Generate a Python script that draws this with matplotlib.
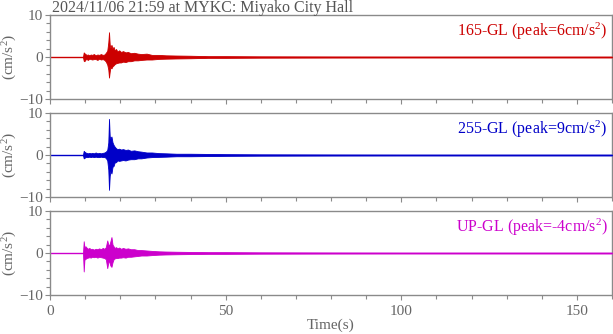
import matplotlib
matplotlib.use("Agg")
import matplotlib.pyplot as plt
from matplotlib.ticker import MultipleLocator

plt.rcParams['font.family'] = ['Liberation Serif', 'DejaVu Serif']
plt.rcParams['mathtext.fontset'] = 'custom'
plt.rcParams['mathtext.rm'] = 'Liberation Serif'
plt.rcParams['mathtext.it'] = 'Liberation Serif:italic'

title = "2024/11/06 21:59 at MYKC: Miyako City Hall"
channels = ["165-GL", "255-GL", "UP-GL"]
peaks = ["6", "9", "-4"]
colors = ["#cc0000", "#0000c8", "#cc00cc"]

t_env = [9.4, 9.6, 9.8, 10.1, 10.4, 10.8, 11.2, 11.6, 12.0, 12.5, 13.0, 13.5, 14.0, 14.5, 15.0,
         15.5, 15.9, 16.3, 16.6, 16.8, 17.0, 17.2, 17.5, 17.8, 18.1, 18.4, 18.8, 19.2, 19.7, 20.2,
         20.8, 21.5, 22.2, 23.0, 24.0, 25.0, 26.0, 27.5, 29.0, 31.0, 33.0, 36.0, 40.0, 45.0, 50.0,
         60.0, 80.0, 100.0, 130.0, 160.0]

up_165 = [0.1, 1.1, 0.9, 0.7, 0.5, 0.6, 0.4, 0.6, 0.5, 0.7, 0.4, 0.6, 0.5, 0.7, 0.5,
          0.6, 1.0, 1.5, 3.5, 5.9, 3.0, 2.2, 2.9, 2.0, 2.4, 1.6, 1.9, 1.3, 1.6, 1.2,
          1.4, 1.1, 1.2, 0.9, 1.0, 0.8, 0.7, 0.8, 0.5, 0.5, 0.4, 0.35, 0.3, 0.2, 0.2,
          0.15, 0.12, 0.1, 0.1, 0.1]
lo_165 = [-0.1, -0.9, -1.0, -0.6, -0.5, -0.7, -0.4, -0.5, -0.6, -0.5, -0.5, -0.7, -0.4, -0.6, -0.5,
          -0.7, -1.1, -1.8, -3.0, -4.9, -3.5, -2.4, -2.7, -2.2, -2.0, -1.7, -1.5, -1.4, -1.3, -1.3,
          -1.1, -1.2, -1.0, -1.0, -0.8, -0.8, -0.7, -0.6, -0.6, -0.45, -0.4, -0.35, -0.3, -0.2, -0.2,
          -0.15, -0.12, -0.1, -0.1, -0.1]

up_255 = [0.1, 1.0, 0.8, 0.6, 0.5, 0.4, 0.5, 0.4, 0.5, 0.4, 0.6, 0.4, 0.5, 0.4, 0.5,
          0.6, 0.8, 1.2, 3.0, 8.6, 4.5, 4.0, 4.4, 3.0, 2.4, 2.0, 1.6, 1.4, 1.5, 1.3,
          1.4, 1.2, 1.3, 1.0, 1.1, 0.9, 0.8, 0.6, 0.6, 0.45, 0.4, 0.3, 0.3, 0.25, 0.2,
          0.15, 0.12, 0.1, 0.1, 0.1]
lo_255 = [-0.1, -0.8, -0.7, -0.5, -0.5, -0.5, -0.4, -0.5, -0.4, -0.5, -0.4, -0.5, -0.5, -0.4, -0.5,
          -0.5, -0.7, -1.3, -3.5, -8.3, -5.0, -3.8, -4.4, -2.8, -2.6, -1.8, -1.7, -1.3, -1.4, -1.3,
          -1.2, -1.3, -1.1, -1.0, -1.0, -0.8, -0.8, -0.6, -0.5, -0.45, -0.4, -0.3, -0.3, -0.25, -0.2,
          -0.15, -0.12, -0.1, -0.1, -0.1]

up_up = [0.1, 2.8, 1.4, 1.6, 1.3, 1.0, 1.2, 0.9, 1.0, 0.8, 1.0, 0.9, 1.1, 0.9, 1.2,
         1.0, 1.4, 3.0, 2.0, 1.8, 2.2, 2.8, 3.8, 2.0, 1.6, 1.2, 1.4, 1.1, 1.3, 1.0,
         1.2, 1.0, 1.1, 0.9, 0.9, 0.7, 0.7, 0.6, 0.5, 0.4, 0.35, 0.3, 0.25, 0.2, 0.2,
         0.15, 0.12, 0.1, 0.1, 0.1]
lo_up = [-0.1, -4.4, -1.6, -1.4, -1.2, -1.1, -1.0, -1.1, -0.9, -1.0, -0.9, -1.1, -0.9, -1.0, -1.1,
         -1.2, -1.5, -3.6, -2.2, -1.8, -2.5, -3.0, -3.3, -2.2, -1.5, -1.3, -1.2, -1.2, -1.1, -1.1,
         -1.0, -1.1, -0.9, -0.9, -0.8, -0.7, -0.6, -0.6, -0.5, -0.4, -0.35, -0.3, -0.25, -0.2, -0.2,
         -0.15, -0.12, -0.1, -0.1, -0.1]

uppers = [up_165, up_255, up_up]
lowers = [lo_165, lo_255, lo_up]

xticks = [0, 50, 100, 150]
yticks = [-10, 0, 10]

gray = "#666666"
spine_gray = "#8a8a8a"

fig = plt.figure(figsize=(6.13, 3.34), dpi=100)
left = 50 / 613
width = 562 / 613
tops = [15, 113, 211]
h = 84
axes = []
for i in range(3):
    y0 = (334 - (tops[i] + h)) / 334
    ax = fig.add_axes([left, y0, width, h / 334])
    axes.append(ax)
    c = colors[i]
    ax.plot([0, 160], [0, 0], color=c, lw=1.0, zorder=2)
    ax.fill_between(t_env, lowers[i], uppers[i], color=c, lw=0.6, edgecolor=c, zorder=3)
    ax.set_xlim(0, 160)
    ax.set_ylim(-10, 10)
    ax.set_xticks(xticks)
    ax.set_yticks(yticks)
    ax.xaxis.set_minor_locator(MultipleLocator(10))
    ax.yaxis.set_minor_locator(MultipleLocator(2))
    ax.tick_params(axis='both', which='major', direction='out', length=3.5, width=0.8,
                   color=spine_gray, labelcolor=gray, labelsize=11, pad=1.5)
    ax.tick_params(axis='x', which='major', pad=3.5)
    ax.tick_params(axis='both', which='minor', direction='out', length=3, width=0.8,
                   color=spine_gray)
    for s in ax.spines.values():
        s.set_color(spine_gray)
        s.set_linewidth(1.0)
    if i < 2:
        ax.set_xticklabels([])
    ax.set_ylabel("(cm/s$^2$)", color=gray, fontsize=11)
    ax.yaxis.set_label_coords(-0.056, 0.5)
    ax.text(0.992, 0.93, channels[i] + " (peak=" + peaks[i] + "cm/s$^2$)",
            transform=ax.transAxes, ha='right', va='top', color=c, fontsize=11.5)

axes[2].set_xlabel("Time(s)", color=gray, fontsize=11)
axes[2].xaxis.set_label_coords(0.5, -0.285)
fig.text(52 / 613, 1 - 0.5 / 334, title, ha='left', va='top', color="#555555", fontsize=11.5)

fig.savefig("out.png", dpi=100)
